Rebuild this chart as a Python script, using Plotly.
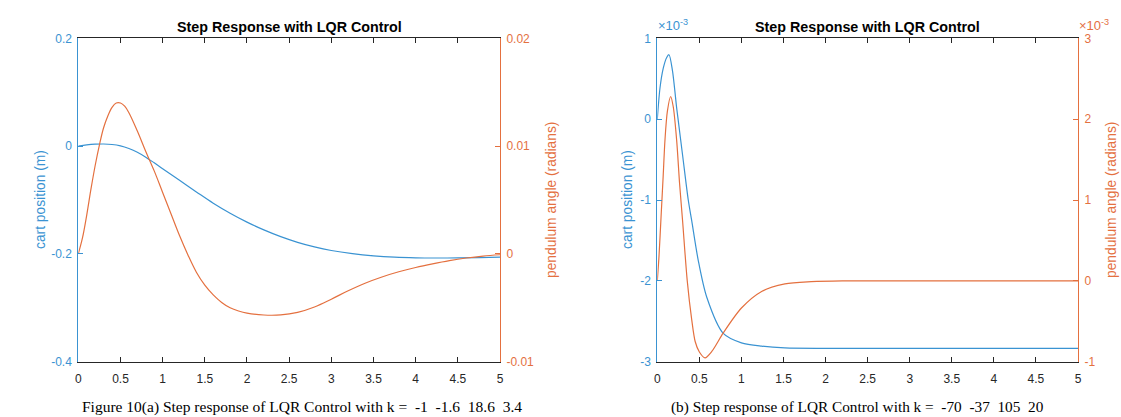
import plotly.graph_objects as go

# ---------------- data ----------------
# (a) k = -1 -1.6 18.6 3.4
t_a_cart = [0, 0.1, 0.2, 0.3, 0.4, 0.5, 0.6, 0.7, 0.8, 0.9, 1.0, 1.2, 1.4, 1.6, 1.8, 2.0,
            2.2, 2.4, 2.6, 2.8, 3.0, 3.25, 3.5, 3.75, 4.0, 4.25, 4.5, 4.75, 5.0]
cart_a = [0.0, 0.0022, 0.0035, 0.0039, 0.0030, 0.0004, -0.0045, -0.0114, -0.0205, -0.031,
          -0.042, -0.0635, -0.085, -0.106, -0.1245, -0.141, -0.1555, -0.168, -0.1785,
          -0.187, -0.1937, -0.1995, -0.2035, -0.206, -0.2072, -0.2076, -0.2075, -0.2068,
          -0.2058]

t_a_pend = [0, 0.05, 0.1, 0.15, 0.2, 0.25, 0.3, 0.35, 0.4, 0.45, 0.5, 0.55, 0.6, 0.7, 0.8,
            0.9, 1.0, 1.1, 1.2, 1.3, 1.4, 1.5, 1.6, 1.7, 1.8, 1.9, 2.0, 2.2, 2.4, 2.6, 2.8,
            3.0, 3.2, 3.4, 3.6, 3.8, 4.0, 4.2, 4.4, 4.6, 4.8, 5.0]
pend_a = [0.0, 0.0015, 0.0036, 0.0060, 0.0082, 0.0101, 0.0117, 0.0128, 0.0136, 0.0140,
          0.0140, 0.0137, 0.0131, 0.0114, 0.0095, 0.0077, 0.0057, 0.0037, 0.0017, -0.0001,
          -0.0017, -0.0029, -0.0038, -0.0045, -0.0050, -0.0053, -0.0055, -0.00567,
          -0.00566, -0.00542, -0.00492, -0.0042, -0.00342, -0.00272, -0.00214, -0.00166,
          -0.00126, -0.00092, -0.00062, -0.00038, -0.0002, -0.00008]

# (b) k = -70 -37 105 20   (values in units of 1e-3)
t_b_cart = [0, 0.032, 0.071, 0.11, 0.139, 0.18, 0.23, 0.247, 0.3, 0.368, 0.409, 0.487, 0.587,
            0.784, 1.0, 1.24, 1.517, 2.0, 3.0, 4.0, 5.0]
cart_b = [0.0, 0.385, 0.63, 0.76, 0.797, 0.6, 0.14, 0.0, -0.44, -1.0, -1.256, -1.749, -2.2,
          -2.65, -2.767, -2.808, -2.83, -2.835, -2.835, -2.835, -2.835]

t_b_pend = [0, 0.02, 0.045, 0.07, 0.091, 0.12, 0.159, 0.19, 0.23, 0.265, 0.3, 0.356, 0.409,
            0.45, 0.5, 0.567, 0.65, 0.784, 1.0, 1.24, 1.517, 1.83, 2.2, 3.0, 4.0, 5.0]
pend_b = [0.0, 0.3, 0.8, 1.3, 1.74, 2.1, 2.28, 2.15, 1.74, 1.2, 0.75, 0.0, -0.48, -0.75,
          -0.88, -0.952, -0.87, -0.644, -0.336, -0.131, -0.037, -0.01, 0.0, 0.0, 0.0, 0.0]

x_ticks = [0, 0.5, 1, 1.5, 2, 2.5, 3, 3.5, 4, 4.5, 5]
ya_left_ticks = [-0.4, -0.2, 0, 0.2]
ya_left_text = ["-0.4", "-0.2", "0", "0.2"]
ya_right_ticks = [-0.01, 0, 0.01, 0.02]
ya_right_text = ["-0.01", "0", "0.01", "0.02"]
yb_left_ticks = [-3, -2, -1, 0, 1]
yb_left_text = ["-3", "-2", "-1", "0", "1"]
yb_right_ticks = [-1, 0, 1, 2, 3]
yb_right_text = ["-1", "0", "1", "2", "3"]

title_text = "Step Response with LQR Control"
cap_a = "Figure 10(a) Step response of LQR Control with k =\u00a0 -1\u00a0 -1.6\u00a0 18.6\u00a0 3.4"
cap_b = "(b) Step response of LQR Control with k =\u00a0 -70\u00a0 -37\u00a0 105\u00a0 20"

# ---------------- style ----------------
W, H = 1121, 417
BLUE = "#3a93d2"
ORANGE = "#e4703f"
DARK = "#262626"
FONT = "Liberation Sans, Arial, Helvetica, sans-serif"
SERIF = "Liberation Serif, Times New Roman, serif"

def px(x):
    return x / W

def py(y):
    return 1 - y / H

xa = [px(78.3), px(500)]
xb = [px(657.3), px(1078)]
yd = [py(361.7), py(38.3)]

fig = go.Figure()
fig.add_trace(go.Scatter(x=t_a_cart, y=cart_a, mode="lines", xaxis="x", yaxis="y",
                         line=dict(color=BLUE, width=1.2, shape="spline", smoothing=1.0)))
fig.add_trace(go.Scatter(x=t_a_pend, y=pend_a, mode="lines", xaxis="x", yaxis="y2",
                         line=dict(color=ORANGE, width=1.2, shape="spline", smoothing=1.0)))
fig.add_trace(go.Scatter(x=t_b_cart, y=cart_b, mode="lines", xaxis="x2", yaxis="y3",
                         line=dict(color=BLUE, width=1.2, shape="spline", smoothing=0.8)))
fig.add_trace(go.Scatter(x=t_b_pend, y=pend_b, mode="lines", xaxis="x2", yaxis="y4",
                         line=dict(color=ORANGE, width=1.2, shape="spline", smoothing=0.8)))

def xaxis(domain, anchor):
    return dict(domain=domain, anchor=anchor, range=[0, 5], tickvals=x_ticks,
                ticks="inside", ticklen=5, tickcolor=DARK, showline=True, linecolor=DARK,
                linewidth=1, mirror="ticks", showgrid=False, zeroline=False, automargin=False,
                ticklabelstandoff=6,
                tickfont=dict(size=12, color=DARK, family=FONT), fixedrange=True)

def yaxis(rng, vals, text, color, side, anchor, overlaying=None):
    d = dict(domain=yd, anchor=anchor, range=rng, tickvals=vals, ticktext=text,
             ticks="inside", ticklen=5, tickcolor=color, showline=True, linecolor=color,
             linewidth=1, showgrid=False, zeroline=False, side=side, automargin=False,
             ticklabelstandoff=3,
             tickfont=dict(size=12, color=color, family=FONT), fixedrange=True)
    if overlaying:
        d["overlaying"] = overlaying
    return d

annotations = []
for cx in [(78.3 + 500) / 2, (657.3 + 1078) / 2]:
    annotations.append(dict(x=px(cx), y=py(27), xref="paper", yref="paper",
                            text="<b>" + title_text + "</b>", showarrow=False,
                            font=dict(size=14.3, color="#000", family=FONT),
                            xanchor="center", yanchor="middle"))
# axis titles
for (x, txt, col) in [(40, "cart position (m)", BLUE), (551, "pendulum angle (radians)", ORANGE),
                      (627, "cart position (m)", BLUE), (1111, "pendulum angle (radians)", ORANGE)]:
    annotations.append(dict(x=px(x), y=py(200), xref="paper", yref="paper", text=txt,
                            textangle=-90, showarrow=False,
                            font=dict(size=13.8, color=col, family=FONT),
                            xanchor="center", yanchor="middle"))
# exponent labels
for (x, col) in [(656, BLUE), (1077, ORANGE)]:
    annotations.append(dict(x=px(x), y=py(25), xref="paper", yref="paper",
                            text="\u00d710<sup>-3</sup>", showarrow=False,
                            font=dict(size=13, color=col, family=FONT),
                            xanchor="left", yanchor="middle"))
# captions
annotations.append(dict(x=px(302), y=py(407), xref="paper", yref="paper", text=cap_a,
                        showarrow=False, font=dict(size=15.5, color="#000", family=SERIF),
                        xanchor="center", yanchor="middle"))
annotations.append(dict(x=px(857), y=py(407), xref="paper", yref="paper", text=cap_b,
                        showarrow=False, font=dict(size=15.3, color="#000", family=SERIF),
                        xanchor="center", yanchor="middle"))

fig.update_layout(
    width=W, height=H, margin=dict(l=0, r=0, t=0, b=0),
    paper_bgcolor="white", plot_bgcolor="white", showlegend=False,
    font=dict(family=FONT),
    xaxis=xaxis(xa, "y"),
    yaxis=yaxis([-0.4, 0.2], ya_left_ticks, ya_left_text, BLUE, "left", "x"),
    yaxis2=yaxis([-0.01, 0.02], ya_right_ticks, ya_right_text, ORANGE, "right", "x", "y"),
    xaxis2=xaxis(xb, "y3"),
    yaxis3=yaxis([-3, 1], yb_left_ticks, yb_left_text, BLUE, "left", "x2"),
    yaxis4=yaxis([-1, 3], yb_right_ticks, yb_right_text, ORANGE, "right", "x2", "y3"),
    annotations=annotations,
)

fig.write_html("out.html", config={"displayModeBar": False})
